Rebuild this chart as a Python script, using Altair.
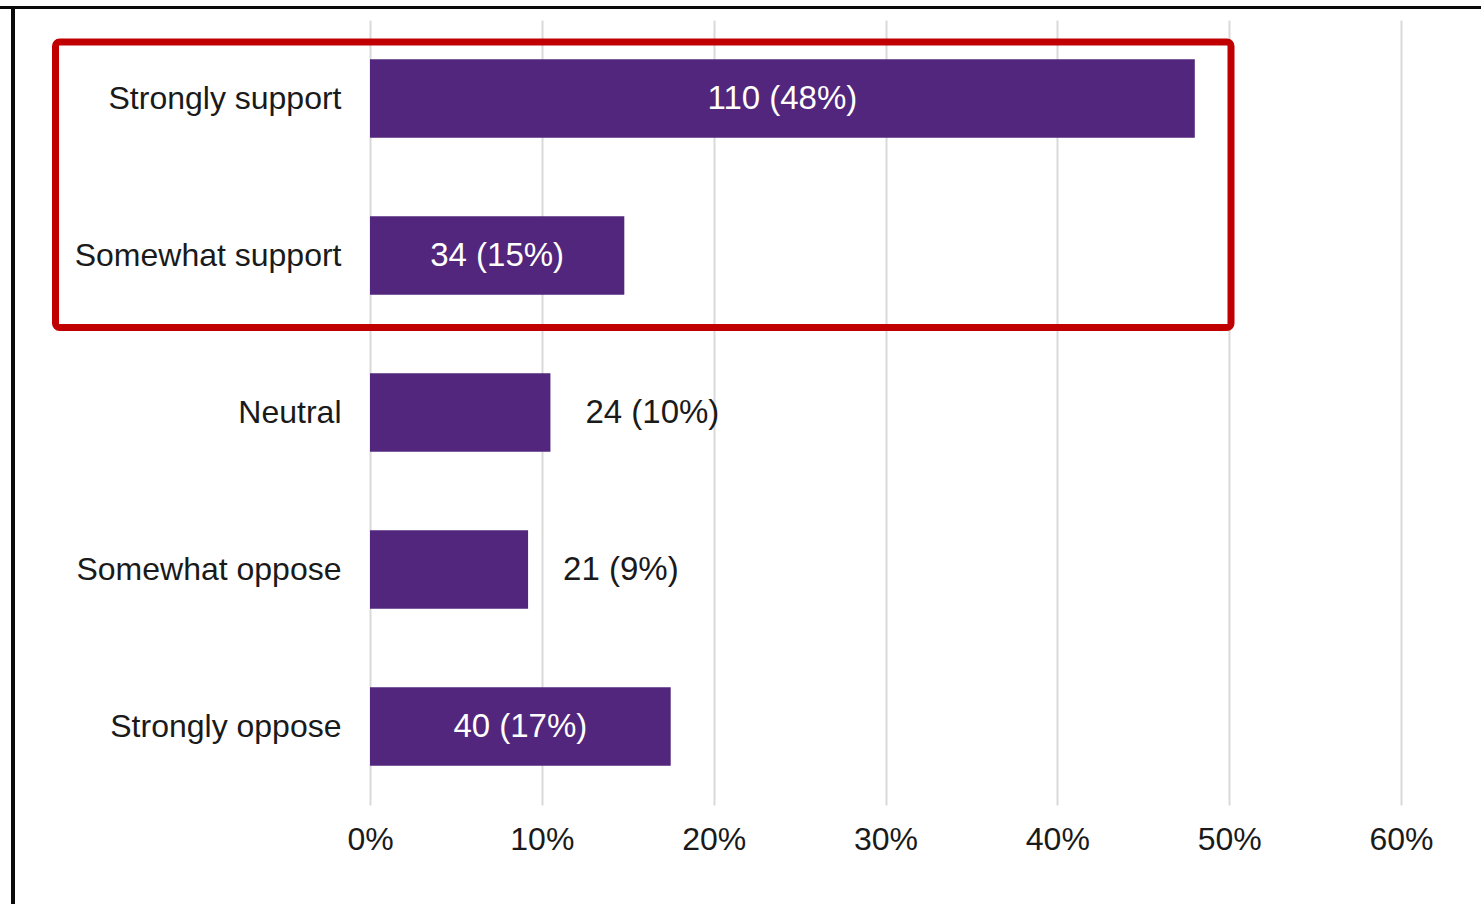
import altair as alt
import pandas as pd

categories = ["Strongly support", "Somewhat support", "Neutral", "Somewhat oppose", "Strongly oppose"]
counts = [110, 34, 24, 21, 40]
shares = [0.480, 0.148, 0.105, 0.092, 0.175]
label_pcts = [48, 15, 10, 9, 17]
inside = [True, True, False, False, True]
x_ticks = [0, 0.1, 0.2, 0.3, 0.4, 0.5, 0.6]

df = pd.DataFrame({
    "cat": categories,
    "share": shares,
    "label": [f"{c} ({p}%)" for c, p in zip(counts, label_pcts)],
    "inside": inside,
})

FONT = "Liberation Sans"
FS = 32
FS_BAR = 33
PURPLE = "#51267c"
TEXT = "#1a1a1a"

y_enc = alt.Y("cat:N", sort=categories,
              scale=alt.Scale(paddingInner=0.5, paddingOuter=0.25),
              axis=alt.Axis(title=None, ticks=False, domain=False, grid=False,
                            labelFont=FONT, labelFontSize=FS, labelColor=TEXT,
                            labelPadding=29, labelLimit=400))
x_scale = alt.Scale(domain=[0, 0.6], nice=False)

base = alt.Chart(df)

bars = base.mark_bar(color=PURPLE).encode(
    x=alt.X("share:Q", scale=x_scale,
            axis=alt.Axis(title=None, format=".0%", values=x_ticks, ticks=False,
                          domain=False, grid=True, gridColor="#d9d9d9", gridWidth=2,
                          labelFont=FONT, labelFontSize=FS, labelColor=TEXT,
                          labelFlush=False, labelPadding=19)),
    y=y_enc,
)

inside_text = base.transform_filter("datum.inside").transform_calculate(
    mid="datum.share / 2"
).mark_text(font=FONT, fontSize=FS_BAR, color="white", align="center", baseline="middle").encode(
    x=alt.X("mid:Q", scale=x_scale),
    y=alt.Y("cat:N", sort=categories),
    text="label:N",
)

outside_text = base.transform_filter("!datum.inside").mark_text(
    font=FONT, fontSize=FS_BAR, color=TEXT, align="left", baseline="middle", dx=35
).encode(
    x=alt.X("share:Q", scale=x_scale),
    y=alt.Y("cat:N", sort=categories),
    text="label:N",
)

one = pd.DataFrame({"k": [0]})
frame_top = alt.Chart(one).mark_rule(color="#0a0a0a", strokeWidth=3).encode(
    x=alt.value(-370), x2=alt.value(1111), y=alt.value(-12.5))
frame_left = alt.Chart(one).mark_rule(color="#0a0a0a", strokeWidth=4).encode(
    x=alt.value(-357), y=alt.value(-14), y2=alt.value(884))
red_box = alt.Chart(one).mark_rect(fill=None, fillOpacity=0, stroke="#c00000",
                                   strokeWidth=7, cornerRadius=4).encode(
    x=alt.value(-314.5), x2=alt.value(861), y=alt.value(22), y2=alt.value(307.5))

chart = alt.layer(bars, inside_text, outside_text, red_box, frame_top, frame_left).properties(
    width=1031, height=785,
    autosize=alt.AutoSizeParams(type="none"),
    padding={"left": 370, "top": 20, "right": 80, "bottom": 99},
    background="white",
).configure_view(stroke=None)

chart.save("out.html", embed_options={"renderer": "svg", "actions": False})
